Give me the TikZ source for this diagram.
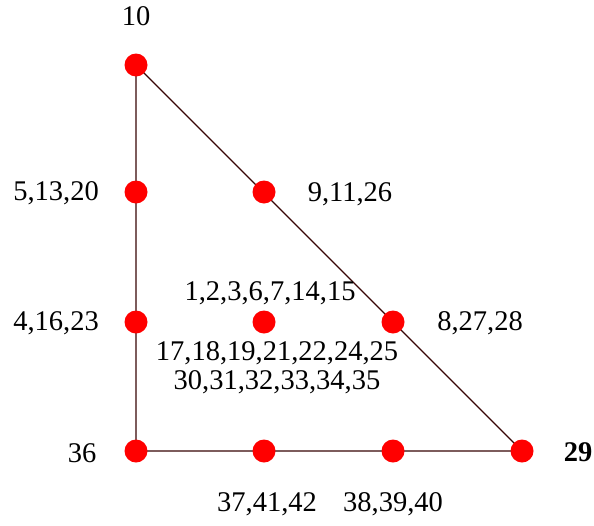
\documentclass[tikz,border=0pt]{standalone}
\usepackage{fontspec}
\setmainfont{Liberation Serif}
\usetikzlibrary{positioning}

\definecolor{edgebrown}{RGB}{55,5,5}

\begin{document}
\begin{tikzpicture}[x=1pt, y=-1pt,
  vertex/.style={circle, fill=red, inner sep=0pt, minimum size=23pt},
  edge/.style={edgebrown, line width=1.1pt},
  lbl/.style={font=\fontsize{28.5}{32}\selectfont, inner sep=0pt, align=center}]

  \useasboundingbox (0,0) rectangle (594,525);

  % Grid points
  \coordinate (c10) at (136,65);
  \coordinate (c5)  at (136,192);
  \coordinate (c9)  at (264,192);
  \coordinate (c4)  at (136,322);
  \coordinate (c1)  at (264,322);
  \coordinate (c8)  at (393,322);
  \coordinate (c36) at (136,451);
  \coordinate (c37) at (264,451);
  \coordinate (c38) at (393,451);
  \coordinate (c29) at (522,451);

  % Edges of the triangle
  \draw[edge] (c10) -- (c36) -- (c29) -- cycle;

  % Nodes
  \node[vertex] (n10) at (c10) {};
  \node[vertex] (n5)  at (c5)  {};
  \node[vertex] (n9)  at (c9)  {};
  \node[vertex] (n4)  at (c4)  {};
  \node[vertex] (n1)  at (c1)  {};
  \node[vertex] (n8)  at (c8)  {};
  \node[vertex] (n36) at (c36) {};
  \node[vertex] (n37) at (c37) {};
  \node[vertex] (n38) at (c38) {};
  \node[vertex] (n29) at (c29) {};

  % Labels
  \node[lbl] (l10) at (136,16) {10};
  \node[lbl] (l5)  at (56,193) {5,13,20};
  \node[lbl] (l9)  at (350,194) {9,11,26};
  \node[lbl] (l1)  at (270,293) {1,2,3,6,7,14,15};
  \node[lbl] (l4)  at (56,323) {4,16,23};
  \node[lbl] (l8)  at (480,323) {8,27,28};
  \node[lbl] (l1b) at (277,368) {17,18,19,21,22,24,25\\[-3pt]30,31,32,33,34,35};
  \node[lbl] (l36) at (82,453) {36};
  \node[lbl, font=\fontsize{28.5}{32}\selectfont\bfseries] (l29) at (578,452) {29};
  \node[lbl] (l37) at (267,504) {37,41,42};
  \node[lbl] (l38) at (393,504) {38,39,40};

\end{tikzpicture}
\end{document}
